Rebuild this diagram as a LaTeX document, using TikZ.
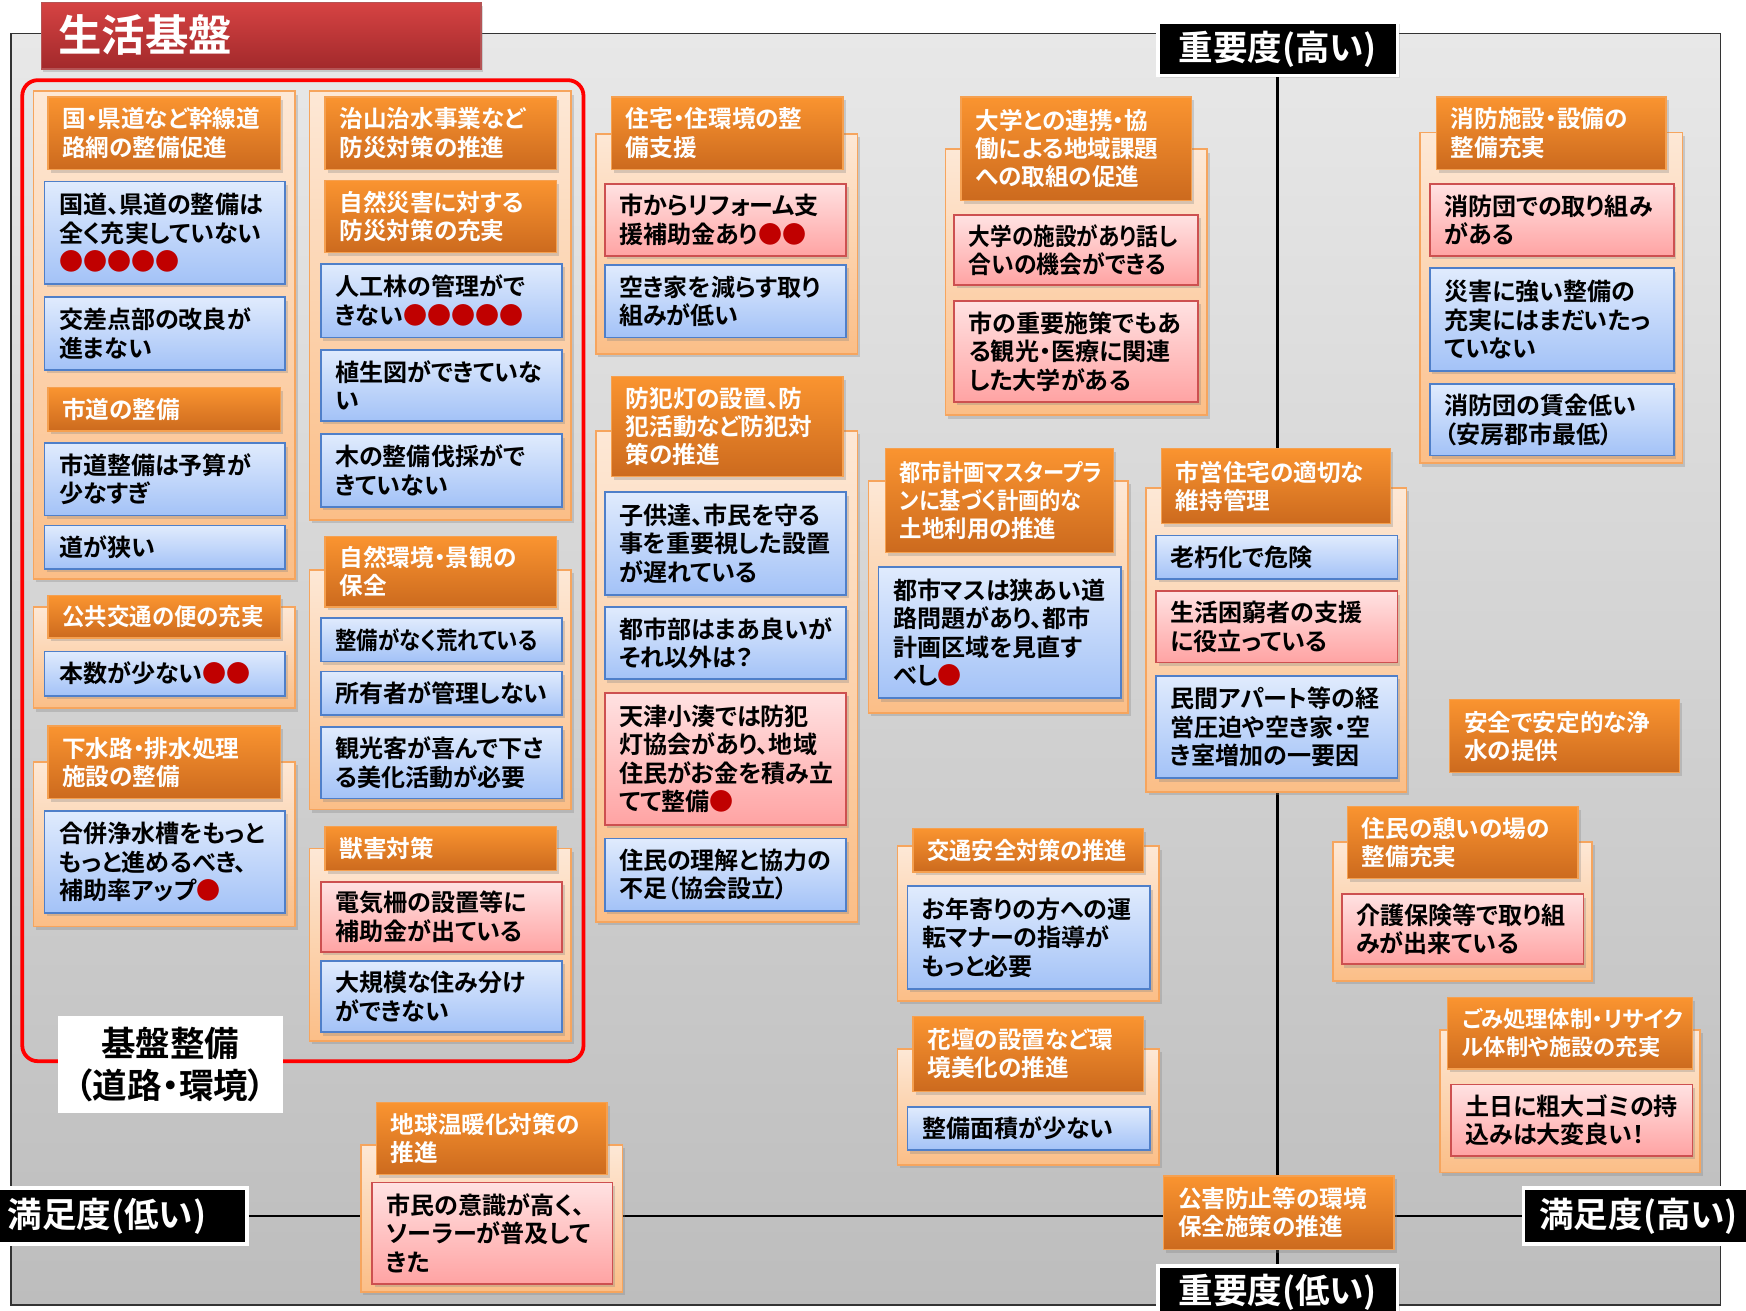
\documentclass[tikz,border=0pt]{standalone}
\usepackage{fontspec}
\setmainfont{Noto Sans CJK JP}[BoldFont={* Bold},RawFeature={+palt}]
\usetikzlibrary{shadows}
\definecolor{bgT}{HTML}{E8E8E8}
\definecolor{bgB}{HTML}{BDBDBD}
\definecolor{ttlT}{HTML}{D64343}
\definecolor{ttlB}{HTML}{A2292B}
\definecolor{pnlT}{HTML}{FDE8D6}
\definecolor{pnlB}{HTML}{FBBE87}
\definecolor{pnlD}{HTML}{F6A55E}
\definecolor{hdrT}{HTML}{FA9430}
\definecolor{hdrB}{HTML}{CC6A1E}
\definecolor{hdrD}{HTML}{F5A050}
\definecolor{bluT}{HTML}{E0EBFD}
\definecolor{bluB}{HTML}{A3C2F7}
\definecolor{bluD}{HTML}{4F7FC9}
\definecolor{pnkT}{HTML}{FFE2E2}
\definecolor{pnkB}{HTML}{FFA3A3}
\definecolor{pnkD}{HTML}{CD5050}
\definecolor{dotred}{HTML}{C00000}
\definecolor{frameRed}{HTML}{FF0000}
\newcommand\hdrfnt{\fontsize{10.6}{12.6}\selectfont\bfseries}
\newcommand\crdfnt{\fontsize{10.8}{12.8}\selectfont\bfseries}
\newcommand\rdot{\textcolor{dotred}{●}}
\newcommand\cnd[2]{\scalebox{#1}[1]{#2}}
\newcommand\bx[7]{%
  \pgfmathsetmacro\bxw{(#5-#3)*0.5}%
  \pgfmathsetmacro\bxh{(#6-#4)*0.5}%
  \pgfmathsetmacro\bxt{(#5-#3-26)*0.5}%
  \node[#2, minimum width=\bxw pt, minimum height=\bxh pt, text width=\bxt pt] (#1) at ({(#3+#5)/2},{(#4+#6)/2}) {#7};}
\begin{document}
\begin{tikzpicture}[x=0.5pt,y=-0.5pt,
  base/.style={inner xsep=6.5pt, inner ysep=0pt, align=left, anchor=center,
    drop shadow={opacity=0.3,shadow xshift=1.2pt,shadow yshift=-1.5pt}},
  panel/.style={base, draw=pnlD, line width=0.8pt, top color=pnlT, bottom color=pnlB},
  hdr/.style={base, draw=hdrD, line width=0.6pt, top color=hdrT, bottom color=hdrB, text=white, font=\hdrfnt},
  bcard/.style={base, draw=bluD, line width=0.8pt, top color=bluT, bottom color=bluB, text=black, font=\crdfnt},
  pcard/.style={base, draw=pnkD, line width=0.8pt, top color=pnkT, bottom color=pnkB, text=black, font=\crdfnt},
  axlabel/.style={fill=black, draw=white, line width=1.6pt, text=white, inner sep=0pt,
    font=\fontsize{15.5}{18}\selectfont\bfseries, drop shadow={opacity=0.25,shadow xshift=1pt,shadow yshift=-1pt}},
  axis/.style={draw=black, line width=1.3pt}]
\useasboundingbox (0,0) rectangle (1568,1177);
\fill[white] (0,0) rectangle (1568,1177);
% background panel
\node[draw=black!80, line width=0.6pt, top color=bgT, bottom color=bgB, minimum width=767.5pt, minimum height=571pt, inner sep=0pt] (bg) at (777.5,601) {};
% axes
\node[axlabel, minimum width=107.5pt, minimum height=24pt] (impHi) at (1147.5,44) {重要度(高い)};
\node[axlabel, minimum width=107.5pt, minimum height=24pt] (impLo) at (1147.5,1161) {重要度(低い)};
\node[axlabel, minimum width=126pt, minimum height=25pt] (satLo) at (96,1092) {満足度(低い)};
\node[axlabel, minimum width=103.5pt, minimum height=25pt] (satHi) at (1471.5,1092) {満足度(高い)};
\draw[axis] (impHi.south) -- (impLo.north);
\draw[axis] (satLo.east) -- (satHi.west);
% title
\node[top color=ttlT, bottom color=ttlB, draw=ttlB!80, line width=0.5pt, minimum width=197.5pt, minimum height=30pt, inner sep=0pt,
  drop shadow={opacity=0.3,shadow xshift=1pt,shadow yshift=-1.5pt}] (title) at (234.5,32) {};
\node[anchor=west, text=white, font=\fontsize{19.5}{22}\selectfont\bfseries, inner sep=0pt] (titletext) at (52,31) {生活基盤};
% red frame
\draw[frameRed, line width=1.7pt, rounded corners=7pt] (20,72) rectangle (524,953);
% ---------- column 1
\bx{pA}{panel}{30}{82}{265}{520}{}
\bx{hA1}{hdr}{43}{87}{252}{152}{国・県道など幹線道\\路網の整備促進}
\bx{cA1}{bcard}{40}{163}{256}{255}{国道、県道の整備は\\全く充実していない\\\rdot\rdot\rdot\rdot\rdot}
\bx{cA2}{bcard}{40}{267}{256}{332}{交差点部の改良が\\進まない}
\bx{hA2}{hdr}{43}{348}{252}{387}{市道の整備}
\bx{cA3}{bcard}{40}{398}{256}{463}{市道整備は予算が\\少なすぎ}
\bx{cA4}{bcard}{40}{472}{256}{511}{道が狭い}
\bx{pB}{panel}{30}{545}{265}{636}{}
\bx{hB}{hdr}{43}{535}{252}{573}{\cnd{0.95}{公共交通の便の充実}}
\bx{cB1}{bcard}{40}{585}{256}{625}{本数が少ない\rdot\rdot}
\bx{pC}{panel}{30}{684}{265}{832}{}
\bx{hC}{hdr}{43}{652}{252}{717}{下水路・排水処理\\施設の整備}
\bx{cC1}{bcard}{40}{728}{256}{820}{合併浄水槽をもっと\\もっと進めるべき、\\補助率アップ\rdot}
% ---------- column 2
\bx{pD}{panel}{278}{82}{513}{467}{}
\bx{hD1}{hdr}{292}{87}{500}{152}{治山治水事業など\\防災対策の推進}
\bx{hD2}{hdr}{292}{162}{500}{227}{自然災害に対する\\防災対策の充実}
\bx{cD1}{bcard}{288}{237}{505}{303}{人工林の管理がで\\きない\rdot\rdot\rdot\rdot\rdot}
\bx{cD2}{bcard}{288}{314}{505}{378}{植生図ができていな\\い}
\bx{cD3}{bcard}{288}{390}{505}{455}{木の整備伐採がで\\きていない}
\bx{pE}{panel}{278}{512}{513}{727}{}
\bx{hE}{hdr}{292}{482}{500}{545}{自然環境・景観の\\保全}
\bx{cE1}{bcard}{288}{555}{505}{594}{\cnd{0.89}{整備がなく荒れている}}
\bx{cE2}{bcard}{288}{603}{505}{642}{所有者が管理しない}
\bx{cE3}{bcard}{288}{653}{505}{717}{観光客が喜んで下さ\\る美化活動が必要}
\bx{pF}{panel}{278}{762}{513}{935}{}
\bx{hF}{hdr}{292}{742}{500}{782}{獣害対策}
\bx{cF1}{pcard}{288}{792}{505}{855}{電気柵の設置等に\\補助金が出ている}
\bx{cF2}{bcard}{288}{863}{505}{927}{大規模な住み分け\\ができない}
% ---------- column 3
\bx{pG}{panel}{535}{120}{770}{318}{}
\bx{hG}{hdr}{549}{87}{757}{152}{住宅・住環境の整\\備支援}
\bx{cG1}{pcard}{543}{165}{760}{230}{市からリフォーム支\\援補助金あり\rdot\rdot}
\bx{cG2}{bcard}{543}{238}{760}{303}{空き家を減らす取り\\組みが低い}
\bx{pH}{panel}{535}{387}{770}{828}{}
\bx{hH}{hdr}{549}{338}{757}{428}{防犯灯の設置、防\\犯活動など防犯対\\策の推進}
\bx{cH1}{bcard}{543}{442}{760}{534}{子供達、市民を守る\\事を重要視した設置\\が遅れている}
\bx{cH2}{bcard}{543}{545}{760}{610}{都市部はまあ良いが\\それ以外は？}
\bx{cH3}{pcard}{543}{622}{760}{741}{天津小湊では防犯\\灯協会があり、地域\\住民がお金を積み立\\てて整備\rdot}
\bx{cH4}{bcard}{543}{753}{760}{818}{住民の理解と協力の\\不足（協会設立）}
% ---------- column 4
\bx{pI}{panel}{849}{134}{1084}{373}{}
\bx{hI}{hdr}{863}{87}{1070}{180}{大学との連携・協\\働による地域課題\\への取組の促進}
\bx{cI1}{pcard}{857}{193}{1076}{256}{\cnd{0.9}{大学の施設があり話し}\\\cnd{0.95}{合いの機会ができる}}
\bx{cI2}{pcard}{857}{270}{1076}{361}{市の重要施策でもあ\\る観光・医療に関連\\した大学がある}
\bx{pJ}{panel}{780}{432}{1013}{640}{}
\bx{hJ}{hdr}{795}{403}{1000}{496}{\cnd{0.9}{都市計画マスタープラ}\\\cnd{0.9}{ンに基づく計画的な}\\\cnd{0.95}{土地利用の推進}}
\bx{cJ1}{bcard}{789}{509}{1007}{627}{都市マスは狭あい道\\路問題があり、都市\\計画区域を見直す\\べし\rdot}
\bx{pK}{panel}{1029}{438}{1263}{711}{}
\bx{hK}{hdr}{1043}{403}{1249}{470}{市営住宅の適切な\\維持管理}
\bx{cK1}{bcard}{1038}{481}{1255}{520}{老朽化で危険}
\bx{cK2}{pcard}{1038}{531}{1255}{595}{生活困窮者の支援\\に役立っている}
\bx{cK3}{bcard}{1038}{607}{1255}{699}{民間アパート等の経\\営圧迫や空き家・空\\き室増加の一要因}
\bx{pL}{panel}{806}{760}{1041}{899}{}
\bx{hL}{hdr}{820}{744}{1027}{783}{\cnd{0.94}{交通安全対策の推進}}
\bx{cL1}{bcard}{815}{796}{1033}{888}{お年寄りの方への運\\転マナーの指導が\\もっと必要}
\bx{pM}{panel}{806}{942}{1041}{1046}{}
\bx{hM}{hdr}{820}{913}{1027}{980}{花壇の設置など環\\境美化の推進}
\bx{cM1}{bcard}{815}{994}{1033}{1033}{整備面積が少ない}
\bx{pN}{panel}{324}{1028}{559}{1160}{}
\bx{hN}{hdr}{338}{990}{545}{1055}{地球温暖化対策の\\推進}
\bx{cN1}{pcard}{334}{1062}{550}{1153}{市民の意識が高く、\\ソーラーが普及して\\きた}
\bx{hO}{hdr}{1045}{1056}{1252}{1122}{公害防止等の環境\\保全施策の推進}
% ---------- column 5
\bx{pP}{panel}{1275}{119}{1511}{416}{}
\bx{hP}{hdr}{1290}{87}{1496}{152}{消防施設・設備の\\整備充実}
\bx{cP1}{pcard}{1284}{165}{1503}{230}{消防団での取り組み\\がある}
\bx{cP2}{bcard}{1284}{241}{1503}{333}{災害に強い整備の\\充実にはまだいたっ\\ていない}
\bx{cP3}{bcard}{1284}{345}{1503}{409}{消防団の賃金低い\\（安房郡市最低）}
\bx{hQ}{hdr}{1302}{628}{1508}{694}{安全で安定的な浄\\水の提供}
\bx{pR}{panel}{1197}{756}{1430}{881}{}
\bx{hR}{hdr}{1210}{724}{1417}{789}{住民の憩いの場の\\整備充実}
\bx{cR1}{pcard}{1205}{803}{1422}{866}{介護保険等で取り組\\みが出来ている}
\bx{pS}{panel}{1293}{925}{1527}{1053}{}
\bx{hS}{hdr}{1300}{896}{1520}{960}{{\fontsize{10}{12.6}\selectfont ごみ処理体制・リサイク\\ル体制や施設の充実}}
\bx{cS1}{pcard}{1303}{974}{1520}{1038}{土日に粗大ゴミの持\\込みは大変良い！}
% label box
\node[fill=white, minimum width=101pt, minimum height=43.5pt, inner sep=0pt, align=center,
  font=\fontsize{15.5}{19}\selectfont\bfseries] (kiban) at (153,956) {基盤整備\\（道路・環境）};
\end{tikzpicture}
\end{document}
